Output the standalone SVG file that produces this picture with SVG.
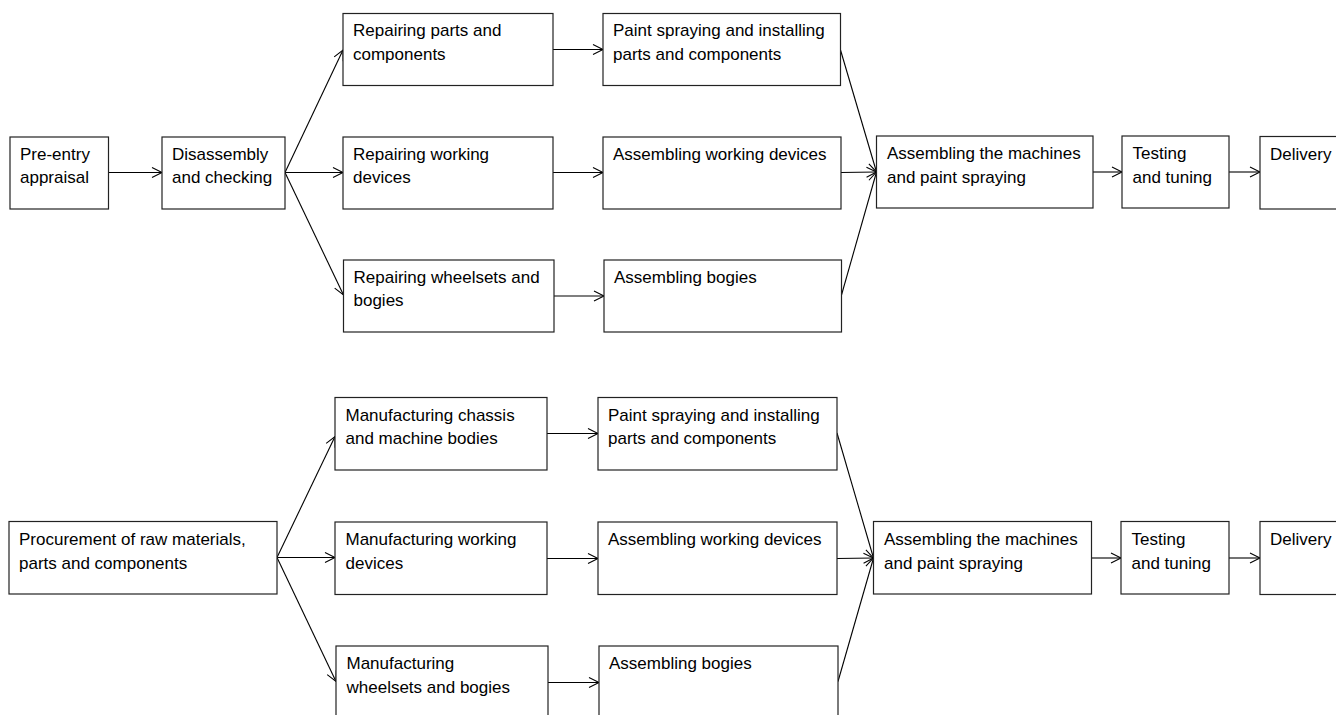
<svg xmlns="http://www.w3.org/2000/svg" width="1336" height="715" viewBox="0 0 1336 715">
<style>
rect{fill:#fff;stroke:#222;stroke-width:1.2}
text{font-family:"Liberation Sans",Arial,sans-serif;font-size:17px;fill:#000}
.c line{stroke:#000;stroke-width:1.1;fill:none;marker-end:url(#a)}
</style>
<defs>
<marker id="a" markerUnits="userSpaceOnUse" markerWidth="12" markerHeight="12" refX="10" refY="5" orient="auto" overflow="visible">
<path d="M0,0 L10,5 L0,10" fill="none" stroke="#000" stroke-width="1.1"/>
</marker>
</defs>
<rect x="0" y="0" width="1336" height="715" style="fill:#fff;stroke:none"/>
<g class="c" id="connectors">
<line x1="108.5" y1="172.5" x2="162" y2="172.5"/>
<line x1="285" y1="172.5" x2="343" y2="50"/>
<line x1="285" y1="172.5" x2="343" y2="172.5"/>
<line x1="285" y1="172.5" x2="343.5" y2="295"/>
<line x1="553" y1="49.5" x2="603" y2="49.5"/>
<line x1="553" y1="172.5" x2="603" y2="172.5"/>
<line x1="554" y1="296" x2="604" y2="296"/>
<line x1="840.5" y1="50" x2="876.5" y2="172"/>
<line x1="841" y1="172.5" x2="876.5" y2="172"/>
<line x1="841.5" y1="295" x2="876.5" y2="172"/>
<line x1="1093" y1="172" x2="1122" y2="172"/>
<line x1="1229" y1="172" x2="1260" y2="172"/>
<line x1="277" y1="557.5" x2="335" y2="436.5"/>
<line x1="277" y1="557.5" x2="335" y2="557.5"/>
<line x1="277" y1="557.5" x2="336" y2="681.5"/>
<line x1="547" y1="433.5" x2="598" y2="433.5"/>
<line x1="547" y1="558.5" x2="598" y2="558.5"/>
<line x1="548" y1="682.5" x2="599" y2="682.5"/>
<line x1="837" y1="433" x2="873.5" y2="558"/>
<line x1="837" y1="558.5" x2="873.5" y2="558"/>
<line x1="838" y1="681.5" x2="873.5" y2="558"/>
<line x1="1091.5" y1="558" x2="1121" y2="558"/>
<line x1="1229" y1="558" x2="1260" y2="558"/>
</g>
<g id="n1"><rect x="10" y="137" width="98.5" height="72"/><text x="20" y="160">Pre-entry</text><text x="20" y="183">appraisal</text></g>
<g id="n2"><rect x="162" y="137" width="123" height="72"/><text x="172" y="160">Disassembly</text><text x="172" y="183">and checking</text></g>
<g id="n3"><rect x="343" y="13.5" width="210" height="72"/><text x="353" y="36">Repairing parts and</text><text x="353" y="59.5">components</text></g>
<g id="n4"><rect x="343" y="137" width="210" height="72"/><text x="353" y="160">Repairing working</text><text x="353" y="183">devices</text></g>
<g id="n5"><rect x="343.5" y="260" width="210.5" height="72"/><text x="353.5" y="283">Repairing wheelsets and</text><text x="353.5" y="306">bogies</text></g>
<g id="n6"><rect x="603" y="13.5" width="237.5" height="72"/><text x="613" y="36">Paint spraying and installing</text><text x="613" y="59.5">parts and components</text></g>
<g id="n7"><rect x="603" y="137" width="238" height="72"/><text x="613" y="160">Assembling working devices</text></g>
<g id="n8"><rect x="604" y="260" width="237.5" height="72"/><text x="614" y="283">Assembling bogies</text></g>
<g id="n9"><rect x="876.5" y="136" width="216.5" height="72"/><text x="887" y="159">Assembling the machines</text><text x="887" y="183">and paint spraying</text></g>
<g id="n10"><rect x="1122" y="136" width="107" height="72"/><text x="1132.5" y="159">Testing</text><text x="1132.5" y="183">and tuning</text></g>
<g id="n11"><rect x="1260" y="136.5" width="90" height="72.5"/><text x="1270" y="159.5">Delivery</text></g>
<g id="m1"><rect x="9" y="521.5" width="268" height="72.5"/><text x="19" y="545">Procurement of raw materials,</text><text x="19" y="568.5">parts and components</text></g>
<g id="m2"><rect x="335" y="397.5" width="212" height="72.5"/><text x="345.5" y="420.5">Manufacturing chassis</text><text x="345.5" y="444">and machine bodies</text></g>
<g id="m3"><rect x="335" y="522" width="212" height="72.5"/><text x="345.5" y="545">Manufacturing working</text><text x="345.5" y="568.5">devices</text></g>
<g id="m4"><rect x="336" y="646" width="212" height="80"/><text x="346.5" y="669">Manufacturing</text><text x="346.5" y="692.5">wheelsets and bogies</text></g>
<g id="m5"><rect x="598" y="397.5" width="239" height="72.5"/><text x="608" y="420.5">Paint spraying and installing</text><text x="608" y="444">parts and components</text></g>
<g id="m6"><rect x="598" y="522" width="239" height="72.5"/><text x="608" y="545">Assembling working devices</text></g>
<g id="m7"><rect x="599" y="646" width="239" height="80"/><text x="609" y="669">Assembling bogies</text></g>
<g id="m8"><rect x="873.5" y="521.5" width="218" height="72.5"/><text x="884" y="545">Assembling the machines</text><text x="884" y="568.5">and paint spraying</text></g>
<g id="m9"><rect x="1121" y="521.5" width="108" height="72.5"/><text x="1131.5" y="545">Testing</text><text x="1131.5" y="568.5">and tuning</text></g>
<g id="m10"><rect x="1260" y="521.5" width="90" height="73"/><text x="1270" y="545">Delivery</text></g>
</svg>
